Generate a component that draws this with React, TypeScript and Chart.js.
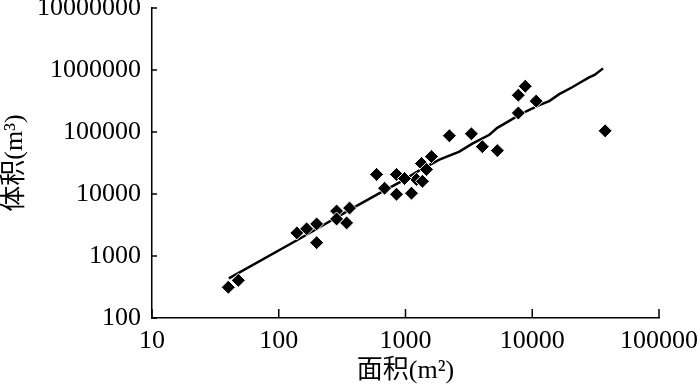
import React, { useEffect, useRef } from "react";
import { Chart, registerables } from "chart.js";

Chart.register(...registerables);

// Observed points: area (m²) and volume (m³)
const areaValues = [
  40, 48, 139, 166, 199, 199, 286, 362, 343, 286,
  591, 849, 684, 849, 1115, 1221, 1361, 1337, 1463, 1602, 982,
  2220, 3311, 4040, 5300, 7762, 7762, 8810, 10740, 37580,
];
const volumeValues = [
  313, 405, 2360, 2740, 3290, 1640, 5310, 5930, 3420, 3960,
  20700, 20700, 12400, 9900, 10300, 17200, 16000, 31000, 24900, 40200, 17800,
  86900, 93500, 58000, 50100, 202700, 392600, 547000, 314900, 104500,
];

// Fitted trend line
const trendArea = [
  40.4, 146, 383, 624, 897, 1289, 1852, 2661, 3370, 4587, 5300, 6590, 7900,
  9140, 11350, 13610, 16330, 17500, 20650, 23000, 28100, 31000, 36230,
];
const trendVolume = [
  435, 1897, 5930, 10300, 15420, 23990, 35970, 48270, 64830, 90200, 116700,
  151000, 188400, 218300, 272200, 315000, 407500, 440000, 527000, 600000,
  762000, 830000, 1062000,
];

const xTickValues = [10, 100, 1000, 10000, 100000];
const yTickValues = [100, 1000, 10000, 100000, 1000000, 10000000];
const xTitle = "面积(m²)";
const yTitle = "体积(m³)";

const tickFont = { family: "'Liberation Serif', 'Times New Roman', serif", size: 26 };
const titleFont = { family: "'Liberation Serif', 'Noto Sans CJK SC', serif", size: 26 };

const inwardTicks = {
  id: "inwardTicks",
  afterDraw(chart: any) {
    const ctx = chart.ctx;
    const xs = chart.scales.x;
    const ys = chart.scales.y;
    const area = chart.chartArea;
    ctx.save();
    ctx.strokeStyle = "#000";
    ctx.lineWidth = 1.5;
    ctx.beginPath();
    xTickValues.forEach((v) => {
      const px = xs.getPixelForValue(v);
      ctx.moveTo(px, area.bottom);
      ctx.lineTo(px, area.bottom - 9);
    });
    yTickValues.forEach((v) => {
      const py = ys.getPixelForValue(v);
      ctx.moveTo(area.left, py);
      ctx.lineTo(area.left + 5, py);
    });
    ctx.stroke();
    ctx.restore();
  },
};

export default function App() {
  const ref = useRef<HTMLCanvasElement | null>(null);
  useEffect(() => {
    if (!ref.current) return;
    const points = areaValues.map((a, i) => ({ x: a, y: volumeValues[i] }));
    const trend = trendArea.map((a, i) => ({ x: a, y: trendVolume[i] }));
    const chart = new Chart(ref.current, {
      type: "scatter",
      data: {
        datasets: [
          {
            label: "trend",
            data: trend,
            showLine: true,
            borderColor: "#000",
            borderWidth: 2.5,
            pointRadius: 0,
            tension: 0,
            order: 2,
          },
          {
            label: "data",
            data: points,
            pointStyle: "rectRot",
            pointRadius: 7,
            backgroundColor: "#000",
            borderColor: "#fff",
            borderWidth: 1,
            order: 1,
          },
        ],
      },
      options: {
        animation: false,
        responsive: false,
        devicePixelRatio: 1,
        layout: { padding: { top: 5, right: 41, left: 0, bottom: 0 } },
        plugins: { legend: { display: false }, tooltip: { enabled: false } },
        scales: {
          x: {
            type: "logarithmic",
            min: 10,
            max: 100000,
            afterBuildTicks: (s: any) => {
              s.ticks = xTickValues.map((v) => ({ value: v }));
            },
            afterFit: (s: any) => {
              s.height = 68;
              s.paddingLeft = 0;
              s.paddingRight = 0;
            },
            grid: { display: true, drawOnChartArea: false, drawTicks: false },
            border: { display: true, color: "#000", width: 1.5 },
            ticks: {
              color: "#000",
              font: tickFont,
              padding: 8,
              maxRotation: 0,
              autoSkip: false,
              callback: (v: any) => String(v),
            },
            title: {
              display: true,
              text: xTitle,
              color: "#000",
              font: titleFont,
              padding: { top: 0, bottom: -1 },
            },
          },
          y: {
            type: "logarithmic",
            min: 100,
            max: 10000000,
            afterBuildTicks: (s: any) => {
              s.ticks = yTickValues.map((v) => ({ value: v }));
            },
            afterFit: (s: any) => {
              s.width = 152;
              s.paddingTop = 0;
              s.paddingBottom = 0;
            },
            grid: { display: true, drawOnChartArea: false, drawTicks: false },
            border: { display: true, color: "#000", width: 1.5 },
            ticks: {
              color: "#000",
              font: tickFont,
              padding: 11,
              autoSkip: false,
              callback: (v: any) => String(v),
            },
            title: {
              display: true,
              text: yTitle,
              color: "#000",
              font: titleFont,
              padding: { top: 0, bottom: 0 },
            },
          },
        },
      },
      plugins: [inwardTicks],
    });
    return () => chart.destroy();
  }, []);
  return (
    <div style={{ position: "fixed", left: 0, top: 0, width: 700, height: 386, background: "#fff" }}>
      <canvas ref={ref} width={700} height={386} style={{ width: 700, height: 386 }} />
    </div>
  );
}
